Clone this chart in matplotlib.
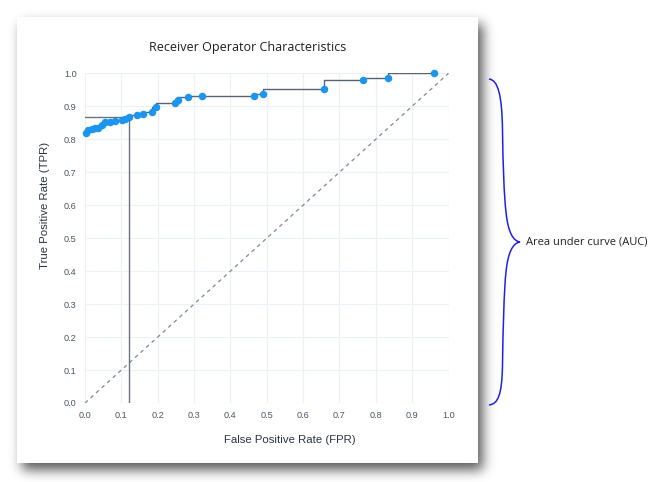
import numpy as np
import matplotlib
matplotlib.use("Agg")
import matplotlib.pyplot as plt
from matplotlib.patches import Rectangle, PathPatch
from matplotlib.path import Path

# ---- data ----
fpr = [0.003, 0.009, 0.018, 0.028, 0.037, 0.046, 0.055, 0.069, 0.083, 0.101,
       0.110, 0.122, 0.144, 0.159, 0.184, 0.196, 0.248, 0.257, 0.282, 0.321,
       0.464, 0.490, 0.657, 0.765, 0.833, 0.961]
tpr = [0.819, 0.827, 0.832, 0.834, 0.835, 0.842, 0.852, 0.852, 0.855, 0.858,
       0.860, 0.868, 0.873, 0.878, 0.883, 0.899, 0.911, 0.918, 0.927, 0.930,
       0.932, 0.938, 0.952, 0.981, 0.987, 1.000]
highlight_idx = 11
diag = [0.0, 1.0]
ticks = [round(0.1 * i, 1) for i in range(11)]
tick_labels = [f"{t:.1f}" for t in ticks]
title = "Receiver Operator Characteristics"
xlabel = "False Positive Rate (FPR)"
ylabel = "True Positive Rate (TPR)"
annotation = "Area under curve (AUC)"

W, H = 658, 482
fig = plt.figure(figsize=(W / 100, H / 100), dpi=100)
fig.patch.set_facecolor("white")

# ---- background layer: card shadow, card, brace ----
bg = fig.add_axes([0, 0, 1, 1], zorder=0)
bg.set_xlim(0, W)
bg.set_ylim(H, 0)
bg.axis("off")

cx0, cy0, cx1, cy1 = 17, 17, 478, 463
mask = np.zeros((H, W))
ox, oy = 5, 7
mask[cy0 + oy:cy1 + oy, cx0 + ox:cx1 + ox] = 1.0
s = 6.0
kx = np.arange(-25, 26)
k = np.exp(-kx ** 2 / (2 * s * s))
k /= k.sum()
mask = np.apply_along_axis(lambda r: np.convolve(r, k, mode="same"), 1, mask)
mask = np.apply_along_axis(lambda c: np.convolve(c, k, mode="same"), 0, mask)
rgba = np.zeros((H, W, 4))
rgba[..., 3] = 0.65 * mask
bg.imshow(rgba, extent=[0, W, H, 0], aspect="auto", interpolation="bilinear", zorder=1)
bg.add_patch(Rectangle((cx0, cy0), cx1 - cx0, cy1 - cy0, facecolor="white",
                       edgecolor="none", zorder=2))

verts = [(489, 79),
         (498, 80), (502, 95), (502.5, 130),
         (503, 165), (504, 195), (506, 212),
         (508, 232), (513, 241), (520, 242),
         (513, 243), (508, 252), (506, 272),
         (504, 290), (503, 330), (502.5, 365),
         (502, 395), (498, 404), (489, 405)]
codes = [Path.MOVETO] + [Path.CURVE4] * 18
bg.add_patch(PathPatch(Path(verts, codes), facecolor="none", edgecolor="#1f1ff0",
                       lw=1.1, zorder=3))
bg.text(526, 242, annotation, ha="left", va="center", fontsize=8,
        family="Open Sans", color="#222222", zorder=3)

# ---- chart ----
ax = fig.add_axes([85 / W, 1 - 403 / H, (448.5 - 85) / W, (403 - 73.3) / H], zorder=1)
ax.set_facecolor("white")
ax.set_xlim(0, 1)
ax.set_ylim(0, 1)
for sp in ax.spines.values():
    sp.set_visible(False)
ax.set_xticks(ticks)
ax.set_xticklabels(tick_labels)
ax.set_yticks(ticks)
ax.set_yticklabels(tick_labels)
ax.tick_params(length=0, labelsize=6.6, labelcolor="#4b5565", pad=6)
for lab in ax.get_xticklabels() + ax.get_yticklabels():
    lab.set_family("Liberation Sans")
ax.grid(True, color="#edf1f7", lw=0.9)
ax.set_axisbelow(True)

ax.plot(diag, diag, ls=(0, (3, 3)), color="#7f889a", lw=0.9, zorder=2)
hx, hy = fpr[highlight_idx], tpr[highlight_idx]
ax.plot([0, hx], [hy, hy], color="#6b7280", lw=1.0, zorder=2)
ax.plot([hx, hx], [0, hy], color="#6b7280", lw=1.0, zorder=2)
ax.plot(fpr, tpr, drawstyle="steps-pre", color="#596273", lw=1.0, zorder=3)
ax.plot(fpr, tpr, "o", ms=4.4, color="#1c95ef", mec="#1c95ef", zorder=4, clip_on=False)

fig.text(248 / W, 1 - 48 / H, title, ha="center", va="center", fontsize=9.0,
         family="Open Sans", color="#1e1e1e")
fig.text(290 / W, 1 - 440 / H, xlabel, ha="center", va="center", fontsize=8.2,
         family="Liberation Sans", color="#2d3340")
fig.text(45 / W, 1 - 205 / H, ylabel, ha="center", va="center", rotation=90,
         fontsize=8.2, family="Liberation Sans", color="#2d3340")

fig.savefig("out.png", dpi=100)
